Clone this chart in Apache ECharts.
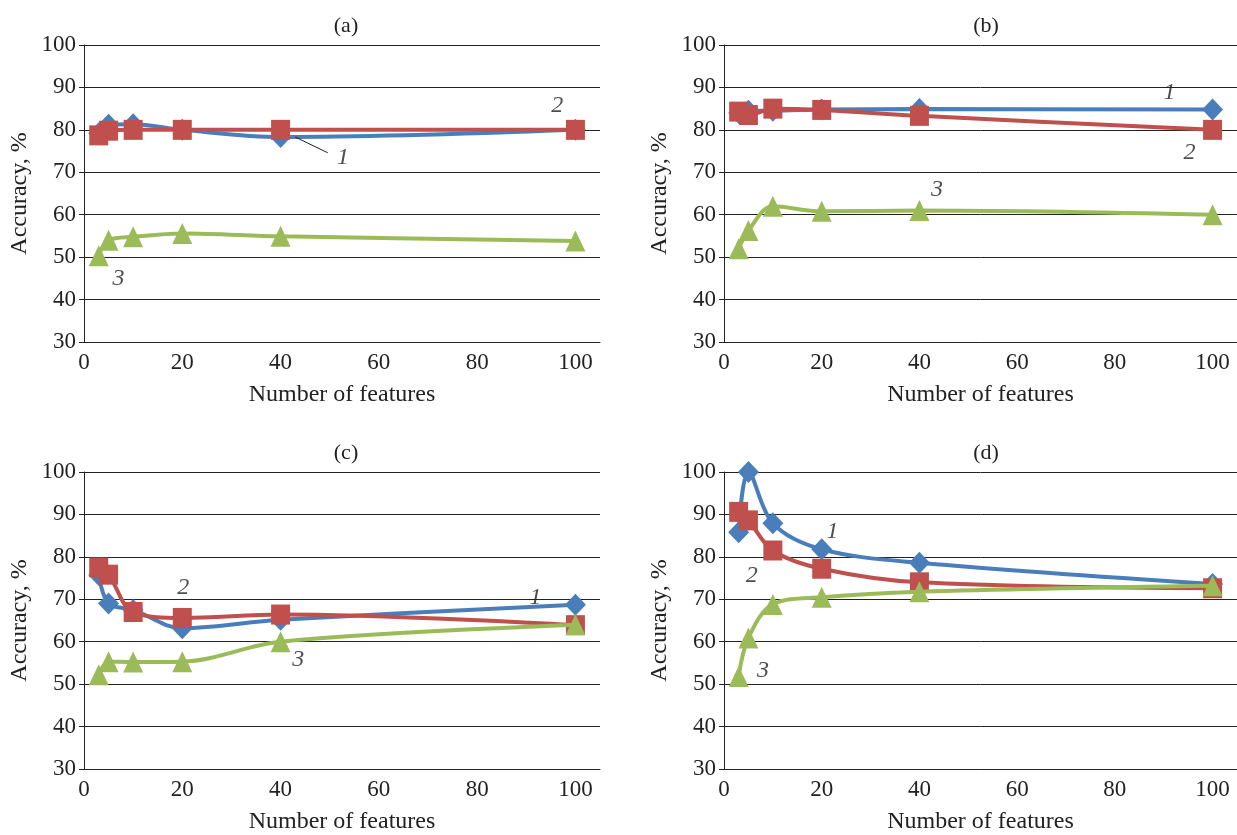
<!DOCTYPE html>
<html>
<head>
<meta charset="utf-8">
<script src="https://cdn.jsdelivr.net/npm/echarts@6/dist/echarts.min.js"></script>
<style>
  html, body { margin: 0; padding: 0; background: #fff; }
  #chart { width: 1237px; height: 835px; }
</style>
</head>
<body>
<div id="chart"></div>
<script>
// number of features (x) shared by every panel
const features = [3, 5, 10, 20, 40, 100];

// (a)
const aLine1 = [79.2, 81.2, 81.3, 80.0, 78.3, 80.0];
const aLine2 = [78.7, 79.8, 80.0, 80.0, 80.0, 80.0];
const aLine3 = [50.3, 54.0, 54.8, 55.6, 54.9, 53.8];
// (b)
const bLine1 = [84.0, 84.5, 84.5, 84.8, 84.9, 84.8];
const bLine2 = [84.3, 83.5, 85.0, 84.7, 83.3, 80.0];
const bLine3 = [52.0, 56.3, 62.0, 60.8, 61.0, 60.0];
// (c)
const cLine1 = [75.7, 69.0, 67.5, 63.2, 65.2, 68.7];
const cLine2 = [77.5, 75.8, 67.0, 65.6, 66.4, 63.9];
const cLine3 = [52.2, 55.3, 55.2, 55.3, 60.0, 64.0];
// (d)
const dLine1 = [85.8, 100.0, 87.9, 81.8, 78.6, 73.6];
const dLine2 = [90.6, 88.6, 81.5, 77.2, 74.0, 72.6];
const dLine3 = [51.8, 60.9, 68.8, 70.5, 71.8, 73.2];

// curve number annotations [x, y, text]
const aNotes = [[52.7, 73.5, '1'], [96.3, 85.8, '2'], [7.0, 45.0, '3']];
const bNotes = [[91.2, 88.8, '1'], [95.3, 74.6, '2'], [43.6, 65.8, '3']];
const cNotes = [[91.9, 70.3, '1'], [20.2, 72.8, '2'], [43.6, 55.8, '3']];
const dNotes = [[22.2, 85.9, '1'], [5.7, 75.5, '2'], [8.0, 53.1, '3']];
// leader line in (a) from curve 1 to its number
const aLeader = [[43.0, 78.3], [49.6, 74.6]];

const panelTitles = ['(a)', '(b)', '(c)', '(d)'];
const yTicks = { min: 30, max: 100, step: 10 };

const FONT = '"Liberation Serif", "DejaVu Serif", serif';
const colors = ['#4a7ebb', '#c0504d', '#9bbb59'];
const symbols = ['diamond', 'rect', 'triangle'];
const symbolSizes = [[21, 22], [19, 20], [20, 21]];

const panels = [
  { lines: [aLine1, aLine2, aLine3], notes: aNotes, left: 84, top: 45, h: 297 },
  { lines: [bLine1, bLine2, bLine3], notes: bNotes, left: 724, top: 45, h: 297 },
  { lines: [cLine1, cLine2, cLine3], notes: cNotes, left: 84, top: 472, h: 299 },
  { lines: [dLine1, dLine2, dLine3], notes: dNotes, left: 724, top: 472, h: 299 }
];
const plotW = 516;

const grid = [], xAxis = [], yAxis = [], series = [], title = [];

panels.forEach((p, i) => {
  grid.push({ left: p.left, top: p.top, width: plotW, height: p.h });
  title.push({
    text: panelTitles[i],
    left: p.left + 257, top: p.top - 35, textAlign: 'center',
    textStyle: { fontFamily: FONT, fontSize: 22, fontWeight: 'normal', color: '#222' }
  });
  xAxis.push({
    type: 'value', gridIndex: i, min: 0, max: 105, interval: 20,
    name: 'Number of features', nameLocation: 'middle', nameGap: 41,
    nameTextStyle: { fontFamily: FONT, fontSize: 24, color: '#222' },
    axisLine: { show: true, lineStyle: { color: '#222', width: 1 } },
    axisTick: { show: false },
    axisLabel: { fontFamily: FONT, fontSize: 23, color: '#222', margin: 9, showMaxLabel: false },
    splitLine: { show: false }
  });
  yAxis.push({
    type: 'value', gridIndex: i, min: yTicks.min, max: yTicks.max, interval: yTicks.step,
    name: 'Accuracy, %', nameLocation: 'middle', nameGap: 52,
    nameTextStyle: { fontFamily: FONT, fontSize: 24, color: '#222' },
    axisLine: { show: true, lineStyle: { color: '#222', width: 1 } },
    axisTick: { show: true, inside: false, length: 5, lineStyle: { color: '#222' } },
    axisLabel: { fontFamily: FONT, fontSize: 23, color: '#222', margin: 8 },
    splitLine: { show: true, lineStyle: { color: '#222', width: 1 } }
  });
  p.lines.forEach((vals, k) => {
    series.push({
      type: 'line', xAxisIndex: i, yAxisIndex: i,
      data: features.map((x, j) => [x, vals[j]]),
      smooth: 0.35,
      symbol: symbols[k], symbolSize: symbolSizes[k],
      lineStyle: { color: colors[k], width: 4 },
      itemStyle: { color: colors[k] },
      z: 3 + k,
      animation: false
    });
  });
  const noteSeries = {
    type: 'scatter', xAxisIndex: i, yAxisIndex: i,
    data: p.notes.map(n => ({ value: [n[0], n[1]], name: n[2] })),
    symbolSize: 0,
    label: {
      show: true, position: 'inside', formatter: '{b}',
      fontFamily: FONT, fontSize: 24, fontStyle: 'italic', color: '#222'
    },
    z: 10, animation: false, silent: true
  };
  if (i === 0) {
    noteSeries.markLine = {
      symbol: 'none', silent: true, animation: false,
      label: { show: false },
      lineStyle: { color: '#222', width: 1, type: 'solid' },
      data: [[{ coord: aLeader[0] }, { coord: aLeader[1] }]]
    };
  }
  series.push(noteSeries);
});

const chart = echarts.init(document.getElementById('chart'));
chart.setOption({ animation: false, backgroundColor: '#fff', title, grid, xAxis, yAxis, series });
</script>
</body>
</html>
